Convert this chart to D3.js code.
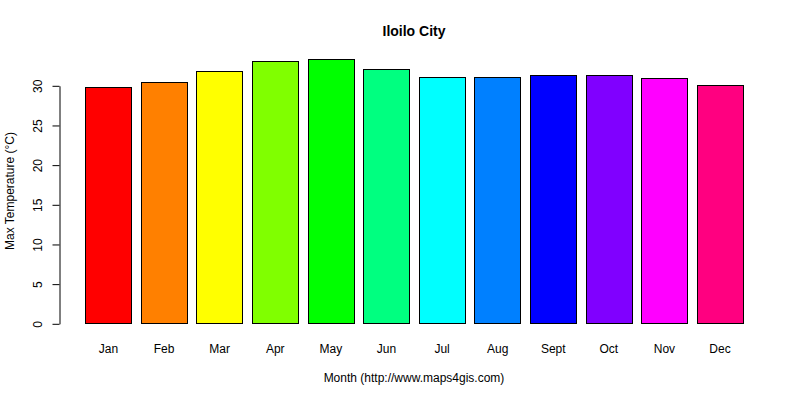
<!DOCTYPE html>
<html>
<head>
<meta charset="utf-8">
<script src="https://cdn.jsdelivr.net/npm/d3@7"></script>
<style>
  html, body { margin: 0; padding: 0; background: #fff; }
  svg { display: block; font-family: Arial, "Liberation Sans", sans-serif; }
</style>
</head>
<body>
<svg id="chart" width="800" height="400"></svg>
<script>
// Data
const months = ["Jan", "Feb", "Mar", "Apr", "May", "Jun", "Jul", "Aug", "Sept", "Oct", "Nov", "Dec"];
const maxTemp = [29.8, 30.4, 31.8, 33.1, 33.3, 32.0, 31.0, 31.1, 31.3, 31.3, 30.9, 30.1];
const barColors = ["#FF0000", "#FF8000", "#FFFF00", "#80FF00", "#00FF00", "#00FF80",
                   "#00FFFF", "#0080FF", "#0000FF", "#8000FF", "#FF00FF", "#FF0080"];
const yTicks = [0, 5, 10, 15, 20, 25, 30];
const title = "Iloilo City";
const xLabel = "Month (http://www.maps4gis.com)";
const yLabel = "Max Temperature (°C)";

const svg = d3.select("#chart");

const x = d3.scaleBand()
  .domain(months)
  .range([85.3, 743.2])
  .paddingInner(1 / 6)
  .paddingOuter(0);

const y = d3.scaleLinear()
  .domain([0, 30])
  .range([323.3, 85.3]);

// Bars
svg.append("g")
  .selectAll("rect")
  .data(months)
  .join("rect")
  .attr("x", (d) => Math.round(x(d)) + 0.5)
  .attr("y", (d, i) => Math.round(y(maxTemp[i])) + 0.5)
  .attr("width", (d) => Math.round(x.bandwidth()))
  .attr("height", (d, i) => Math.round(y(0)) - Math.round(y(maxTemp[i])))
  .attr("fill", (d, i) => barColors[i])
  .attr("stroke", "#000")
  .attr("stroke-width", 1);

// Y axis
const yAxis = svg.append("g")
  .attr("transform", "translate(59.5,0.5)")
  .call(d3.axisLeft(y).tickValues(yTicks).tickSize(7).tickSizeOuter(0).tickFormat(d3.format("d")));
yAxis.select(".domain").attr("stroke", "#000");
yAxis.selectAll(".tick line").attr("stroke", "#000");
yAxis.selectAll(".tick text")
  .attr("transform", "rotate(-90)")
  .attr("x", 0)
  .attr("y", -22)
  .attr("dy", "0.35em")
  .attr("text-anchor", "middle")
  .attr("fill", "#000")
  .style("font-size", "12px")
  .style("font-family", "Arial, 'Liberation Sans', sans-serif");

// X category labels
const xAxis = svg.append("g")
  .attr("transform", "translate(0,340)")
  .call(d3.axisBottom(x).tickSize(0).tickPadding(0));
xAxis.select(".domain").remove();
xAxis.selectAll(".tick text")
  .attr("y", 12.7)
  .attr("dy", 0)
  .attr("fill", "#000")
  .style("font-size", "12px")
  .style("font-family", "Arial, 'Liberation Sans', sans-serif");

// Title
svg.append("text")
  .attr("x", 414)
  .attr("y", 36)
  .attr("text-anchor", "middle")
  .style("font-size", "14px")
  .style("font-weight", "bold")
  .text(title);

// X label
svg.append("text")
  .attr("x", 414)
  .attr("y", 382)
  .attr("text-anchor", "middle")
  .style("font-size", "12px")
  .text(xLabel);

// Y label
svg.append("text")
  .attr("transform", "translate(14,191) rotate(-90)")
  .attr("text-anchor", "middle")
  .style("font-size", "12px")
  .text(yLabel);
</script>
</body>
</html>
